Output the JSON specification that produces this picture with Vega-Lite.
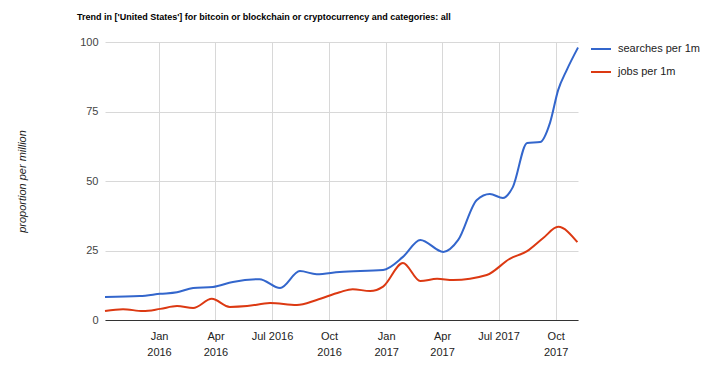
{
  "$schema": "https://vega.github.io/schema/vega-lite/v6.json",
  "width": 473,
  "height": 278,
  "autosize": {"type": "none"},
  "padding": {"left": 105, "top": 42, "right": 138, "bottom": 58},
  "background": "white",
  "title": {
    "text": "Trend in ['United States'] for bitcoin or blockchain or cryptocurrency and categories: all",
    "anchor": "start",
    "frame": "group",
    "dx": -28,
    "offset": 14,
    "font": "Liberation Sans Narrow, Liberation Sans",
    "fontSize": 9,
    "fontWeight": "bold",
    "color": "#000"
  },
  "config": {
    "view": {"stroke": null},
    "font": "Liberation Sans"
  },
  "data": {
    "values": [
      {"date": "2015-10-06", "series": "searches per 1m", "value": 8.3},
      {"date": "2015-12-01", "series": "searches per 1m", "value": 8.6},
      {"date": "2016-01-03", "series": "searches per 1m", "value": 9.4},
      {"date": "2016-01-30", "series": "searches per 1m", "value": 10.0},
      {"date": "2016-02-25", "series": "searches per 1m", "value": 11.5},
      {"date": "2016-03-28", "series": "searches per 1m", "value": 11.9},
      {"date": "2016-04-29", "series": "searches per 1m", "value": 13.7},
      {"date": "2016-06-11", "series": "searches per 1m", "value": 14.7},
      {"date": "2016-07-14", "series": "searches per 1m", "value": 11.5},
      {"date": "2016-08-15", "series": "searches per 1m", "value": 17.6},
      {"date": "2016-09-11", "series": "searches per 1m", "value": 16.5},
      {"date": "2016-10-18", "series": "searches per 1m", "value": 17.3},
      {"date": "2016-12-27", "series": "searches per 1m", "value": 18.0},
      {"date": "2017-01-28", "series": "searches per 1m", "value": 22.7},
      {"date": "2017-02-25", "series": "searches per 1m", "value": 28.8},
      {"date": "2017-04-03", "series": "searches per 1m", "value": 24.5},
      {"date": "2017-04-27", "series": "searches per 1m", "value": 28.8},
      {"date": "2017-05-27", "series": "searches per 1m", "value": 43.2},
      {"date": "2017-06-17", "series": "searches per 1m", "value": 45.3},
      {"date": "2017-07-08", "series": "searches per 1m", "value": 43.9},
      {"date": "2017-07-24", "series": "searches per 1m", "value": 47.8},
      {"date": "2017-08-16", "series": "searches per 1m", "value": 63.7},
      {"date": "2017-09-06", "series": "searches per 1m", "value": 64.0},
      {"date": "2017-09-22", "series": "searches per 1m", "value": 71.0},
      {"date": "2017-10-05", "series": "searches per 1m", "value": 82.7},
      {"date": "2017-10-19", "series": "searches per 1m", "value": 90.0},
      {"date": "2017-11-06", "series": "searches per 1m", "value": 98.0},
      {"date": "2015-10-06", "series": "jobs per 1m", "value": 3.2},
      {"date": "2015-11-04", "series": "jobs per 1m", "value": 3.9},
      {"date": "2015-12-06", "series": "jobs per 1m", "value": 3.2},
      {"date": "2016-01-03", "series": "jobs per 1m", "value": 4.0},
      {"date": "2016-01-30", "series": "jobs per 1m", "value": 5.0},
      {"date": "2016-02-25", "series": "jobs per 1m", "value": 4.3},
      {"date": "2016-03-26", "series": "jobs per 1m", "value": 7.6},
      {"date": "2016-04-24", "series": "jobs per 1m", "value": 4.7},
      {"date": "2016-05-22", "series": "jobs per 1m", "value": 5.0},
      {"date": "2016-06-28", "series": "jobs per 1m", "value": 6.1},
      {"date": "2016-08-10", "series": "jobs per 1m", "value": 5.4},
      {"date": "2016-09-11", "series": "jobs per 1m", "value": 7.2},
      {"date": "2016-10-18", "series": "jobs per 1m", "value": 10.0},
      {"date": "2016-11-08", "series": "jobs per 1m", "value": 11.1},
      {"date": "2016-12-06", "series": "jobs per 1m", "value": 10.4},
      {"date": "2016-12-27", "series": "jobs per 1m", "value": 12.0},
      {"date": "2017-01-28", "series": "jobs per 1m", "value": 20.5},
      {"date": "2017-02-25", "series": "jobs per 1m", "value": 14.0},
      {"date": "2017-03-24", "series": "jobs per 1m", "value": 14.8},
      {"date": "2017-04-19", "series": "jobs per 1m", "value": 14.4},
      {"date": "2017-06-12", "series": "jobs per 1m", "value": 16.2},
      {"date": "2017-07-19", "series": "jobs per 1m", "value": 22.0},
      {"date": "2017-08-16", "series": "jobs per 1m", "value": 24.8},
      {"date": "2017-09-11", "series": "jobs per 1m", "value": 29.5},
      {"date": "2017-10-05", "series": "jobs per 1m", "value": 33.5},
      {"date": "2017-11-05", "series": "jobs per 1m", "value": 28.0}
    ]
  },
  "mark": {"type": "line", "interpolate": "monotone", "strokeWidth": 2},
  "encoding": {
    "x": {
      "field": "date",
      "type": "temporal",
      "scale": {"type": "utc", "domain": [{"year": 2015, "month": 10, "date": 6, "utc": true}, {"year": 2017, "month": 11, "date": 6, "utc": true}]},
      "axis": {
        "title": null,
        "values": [
          {"year": 2016, "month": 1, "date": 1, "utc": true},
          {"year": 2016, "month": 4, "date": 1, "utc": true},
          {"year": 2016, "month": 7, "date": 1, "utc": true},
          {"year": 2016, "month": 10, "date": 1, "utc": true},
          {"year": 2017, "month": 1, "date": 1, "utc": true},
          {"year": 2017, "month": 4, "date": 1, "utc": true},
          {"year": 2017, "month": 7, "date": 1, "utc": true},
          {"year": 2017, "month": 10, "date": 1, "utc": true}
        ],
        "labelExpr": "utcmonth(datum.value) == 6 ? utcFormat(datum.value, '%b %Y') : [utcFormat(datum.value, '%b'), utcFormat(datum.value, '%Y')]",
        "labelFontSize": 11,
        "labelColor": "#222",
        "labelPadding": 10,
        "labelLineHeight": 16,
        "ticks": false,
        "domain": true,
        "domainColor": "#333",
        "domainWidth": 1,
        "grid": true,
        "gridColor": "#d8d8d8"
      }
    },
    "y": {
      "field": "value",
      "type": "quantitative",
      "scale": {"domain": [0, 100], "nice": false},
      "axis": {
        "title": "proportion per million",
        "titleFontStyle": "italic",
        "titleFontWeight": "normal",
        "titleFontSize": 11,
        "titleColor": "#222",
        "titleX": -83,
        "titleY": 139,
        "titleAlign": "center",
        "titleBaseline": "middle",
        "values": [0, 25, 50, 75, 100],
        "labelFontSize": 11,
        "labelColor": "#444",
        "labelPadding": 7,
        "ticks": false,
        "domain": false,
        "grid": true,
        "gridColor": "#d8d8d8"
      }
    },
    "color": {
      "field": "series",
      "type": "nominal",
      "scale": {"domain": ["searches per 1m", "jobs per 1m"], "range": ["#3366cc", "#dc3912"]},
      "legend": {
        "title": null,
        "orient": "none",
        "legendX": 485,
        "legendY": -4,
        "symbolType": "stroke",
        "symbolSize": 400,
        "symbolStrokeWidth": 2,
        "labelFontSize": 11,
        "labelColor": "#222",
        "rowPadding": 7,
        "labelOffset": 6
      }
    }
  }
}
